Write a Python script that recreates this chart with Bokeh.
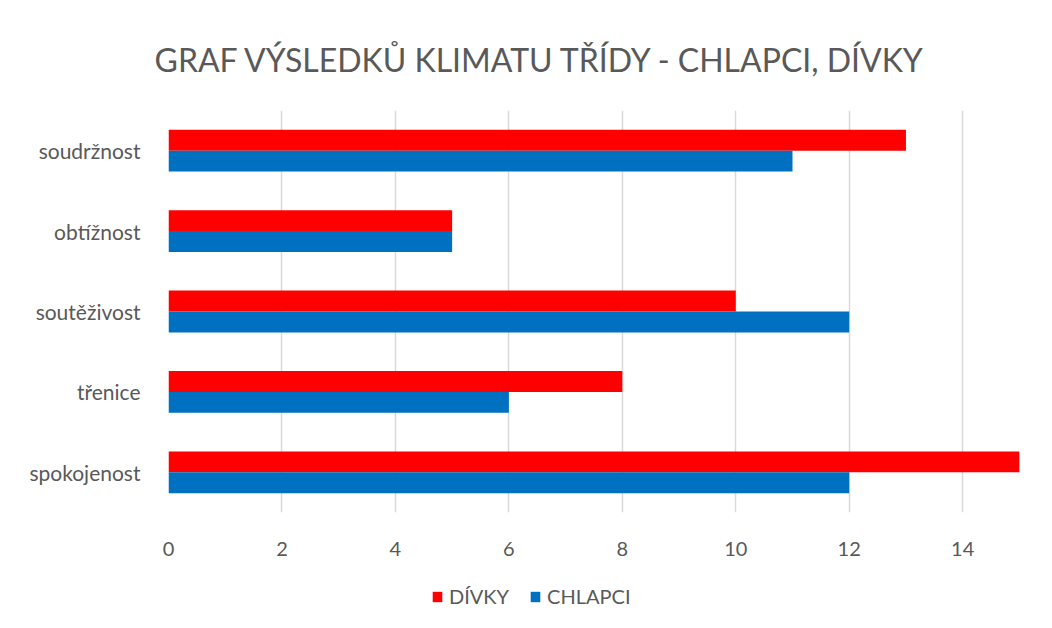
from bokeh.plotting import figure
from bokeh.models import ColumnDataSource, Legend, LegendItem, Range1d
from bokeh.layouts import column
from bokeh.transform import dodge
from bokeh.embed import file_html
from bokeh.resources import INLINE

categories = ["soudržnost", "obtížnost", "soutěživost", "třenice", "spokojenost"]
divky = [13, 5, 10, 8, 15]
chlapci = [11, 5, 12, 6, 12]
x_ticks = [0, 2, 4, 6, 8, 10, 12, 14]
series_names = ["DÍVKY", "CHLAPCI"]

FONT = "Lato"
TXT = "#595959"
RED = "#ff0000"
BLUE = "#0070c0"

src = ColumnDataSource(dict(cat=categories, divky=divky, chlapci=chlapci))

p = figure(
    y_range=list(reversed(categories)),
    x_range=Range1d(0, 15.46),
    width=1045, height=570,
    min_border_left=168, min_border_right=0,
    min_border_top=110, min_border_bottom=58,
    output_backend="svg", toolbar_location=None,
    title="GRAF VÝSLEDKŮ KLIMATU TŘÍDY - CHLAPCI, DÍVKY",
)

p.hbar(y=dodge("cat", 0.13, range=p.y_range), right="divky", left=0, height=0.26,
       source=src, fill_color=RED, line_color=None)
p.hbar(y=dodge("cat", -0.13, range=p.y_range), right="chlapci", left=0, height=0.26,
       source=src, fill_color=BLUE, line_color=None)

p.title.text_font = FONT
p.title.text_font_size = "32px"
p.title.text_font_style = "normal"
p.title.text_color = TXT
p.title.align = "left"
p.title.offset = -14
p.title.standoff = 64

p.outline_line_color = None
p.ygrid.grid_line_color = None
p.xgrid.grid_line_color = "#d9d9d9"
p.xgrid.grid_line_width = 1.5
p.xaxis.ticker = x_ticks

for ax in (p.xaxis[0], p.yaxis[0]):
    ax.axis_line_color = None
    ax.major_tick_line_color = None
    ax.minor_tick_line_color = None
    ax.major_label_text_font = FONT
    ax.major_label_text_color = TXT

p.xaxis.major_label_text_font_size = "20px"
p.yaxis.major_label_text_font_size = "21px"
p.xaxis.major_label_standoff = 23
p.yaxis.major_label_standoff = 22

# legend strip below the chart (the proxy bar lies outside the visible range)
proxy = ColumnDataSource(dict(y=[-10], r=[1]))
pl = figure(width=1045, height=58, x_range=Range1d(0, 1), y_range=Range1d(0, 1),
            min_border=0, min_border_left=0, min_border_right=0,
            output_backend="svg", toolbar_location=None)
l1 = pl.hbar(y="y", right="r", left=0, height=0.26, source=proxy, fill_color=RED, line_color=None)
l2 = pl.hbar(y="y", right="r", left=0, height=0.26, source=proxy, fill_color=BLUE, line_color=None)
pl.axis.visible = False
pl.grid.grid_line_color = None
pl.outline_line_color = None

legend = Legend(items=[LegendItem(label=series_names[0], renderers=[l1]),
                       LegendItem(label=series_names[1], renderers=[l2])],
                orientation="horizontal", location=(263, 20),
                border_line_color=None, background_fill_alpha=0,
                label_text_font=FONT, label_text_font_size="20px", label_text_color=TXT,
                glyph_width=12, glyph_height=13, label_standoff=6, spacing=20, margin=0,
                padding=4)
pl.add_layout(legend, "center")

layout = column(p, pl, spacing=0)
open("out.html", "w").write(file_html(layout, INLINE))
